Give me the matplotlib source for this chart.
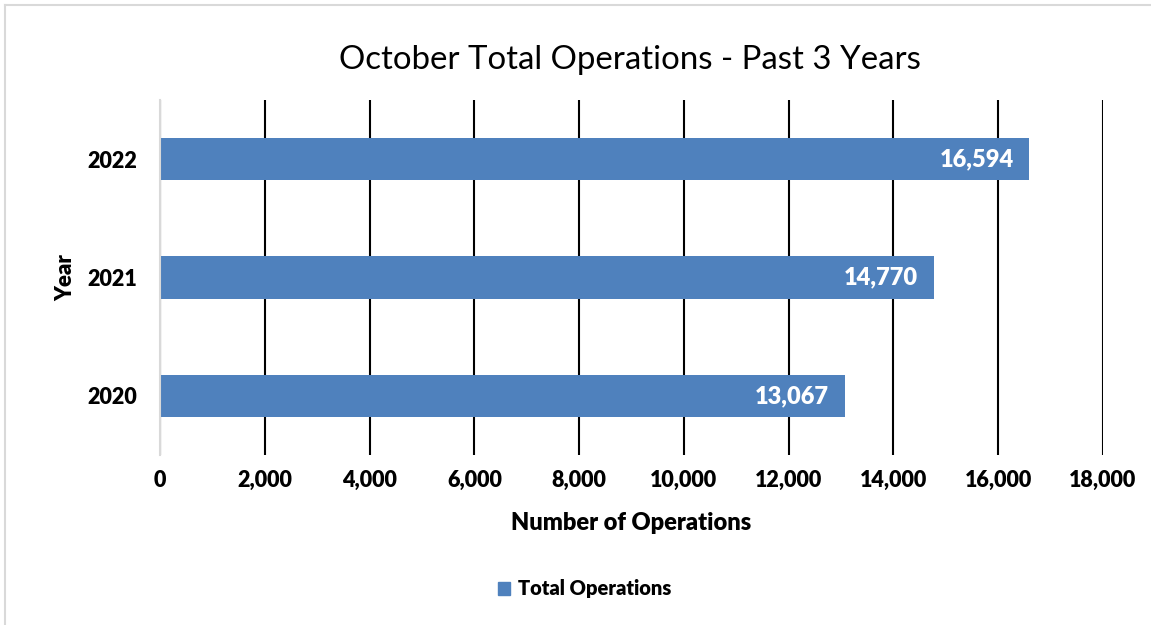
import matplotlib
matplotlib.use("Agg")
import matplotlib.pyplot as plt
from matplotlib.patches import Patch
from matplotlib.lines import Line2D

years = ["2020", "2021", "2022"]
operations = [13067, 14770, 16594]
xticks = list(range(0, 18001, 2000))
series_name = "Total Operations"
bar_color = "#4F81BD"

plt.rcParams['font.family'] = ['Lato', 'DejaVu Sans']
W = 800

fig = plt.figure(figsize=(11.51, 6.25), dpi=100)
ax = fig.add_axes([160/1151, 1 - 455/625, (1103 - 160)/1151, 355/625])

pos = list(range(len(years)))
bars = ax.barh(pos, operations, height=0.355, color=bar_color, zorder=3)

ax.set_xlim(0, 18000)
ax.set_ylim(-0.5, len(years) - 0.5)
ax.set_xticks(xticks)
ax.set_xticklabels([f"{v:,}" for v in xticks], fontsize=15.5, fontweight=W)
ax.set_yticks(pos)
ax.set_yticklabels(years, fontsize=15.5, fontweight=W)
ax.tick_params(axis='x', length=0, pad=11)
ax.tick_params(axis='y', length=0, pad=16.5)

ax.grid(axis='x', color='black', linewidth=1.5, zorder=0)
ax.set_axisbelow(True)
for s in ['top', 'right', 'bottom']:
    ax.spines[s].set_visible(False)
ax.spines['left'].set_color('#D9D9D9')
ax.spines['left'].set_linewidth(1.5)
ax.spines['left'].set_zorder(4)

for p, v in zip(pos, operations):
    ax.text(v - 300, p, f"{v:,}", ha='right', va='center', color='white',
            fontsize=17, fontweight=W, zorder=5)

ax.set_xlabel("Number of Operations", fontsize=17, fontweight=W)
ax.xaxis.set_label_coords(0.5, (455 - 512) / 355)
ax.set_ylabel("Year", fontsize=16, fontweight=W)
ax.yaxis.set_label_coords((76 - 160) / 943, 0.5)

fig.text(630/1151, 1 - 60/625, "October Total Operations - Past 3 Years",
         ha='center', va='center', fontsize=23.8)

handle = Patch(facecolor=bar_color, edgecolor=bar_color)
fig.legend([handle], [series_name], loc='center', bbox_to_anchor=(585/1151, 1 - 589/625),
           frameon=False, prop={'weight': W, 'size': 14.5},
           handlelength=0.6, handleheight=0.6, handletextpad=0.4)

# figure border (light gray)
fig.add_artist(Line2D([5/1151, 5/1151], [0, 1 - 5/625], color='#D9D9D9', lw=1.5,
                      transform=fig.transFigure))
fig.add_artist(Line2D([5/1151, 1], [1 - 5/625, 1 - 5/625], color='#D9D9D9', lw=1.5,
                      transform=fig.transFigure))

fig.savefig("out.png", dpi=100, facecolor='white')
